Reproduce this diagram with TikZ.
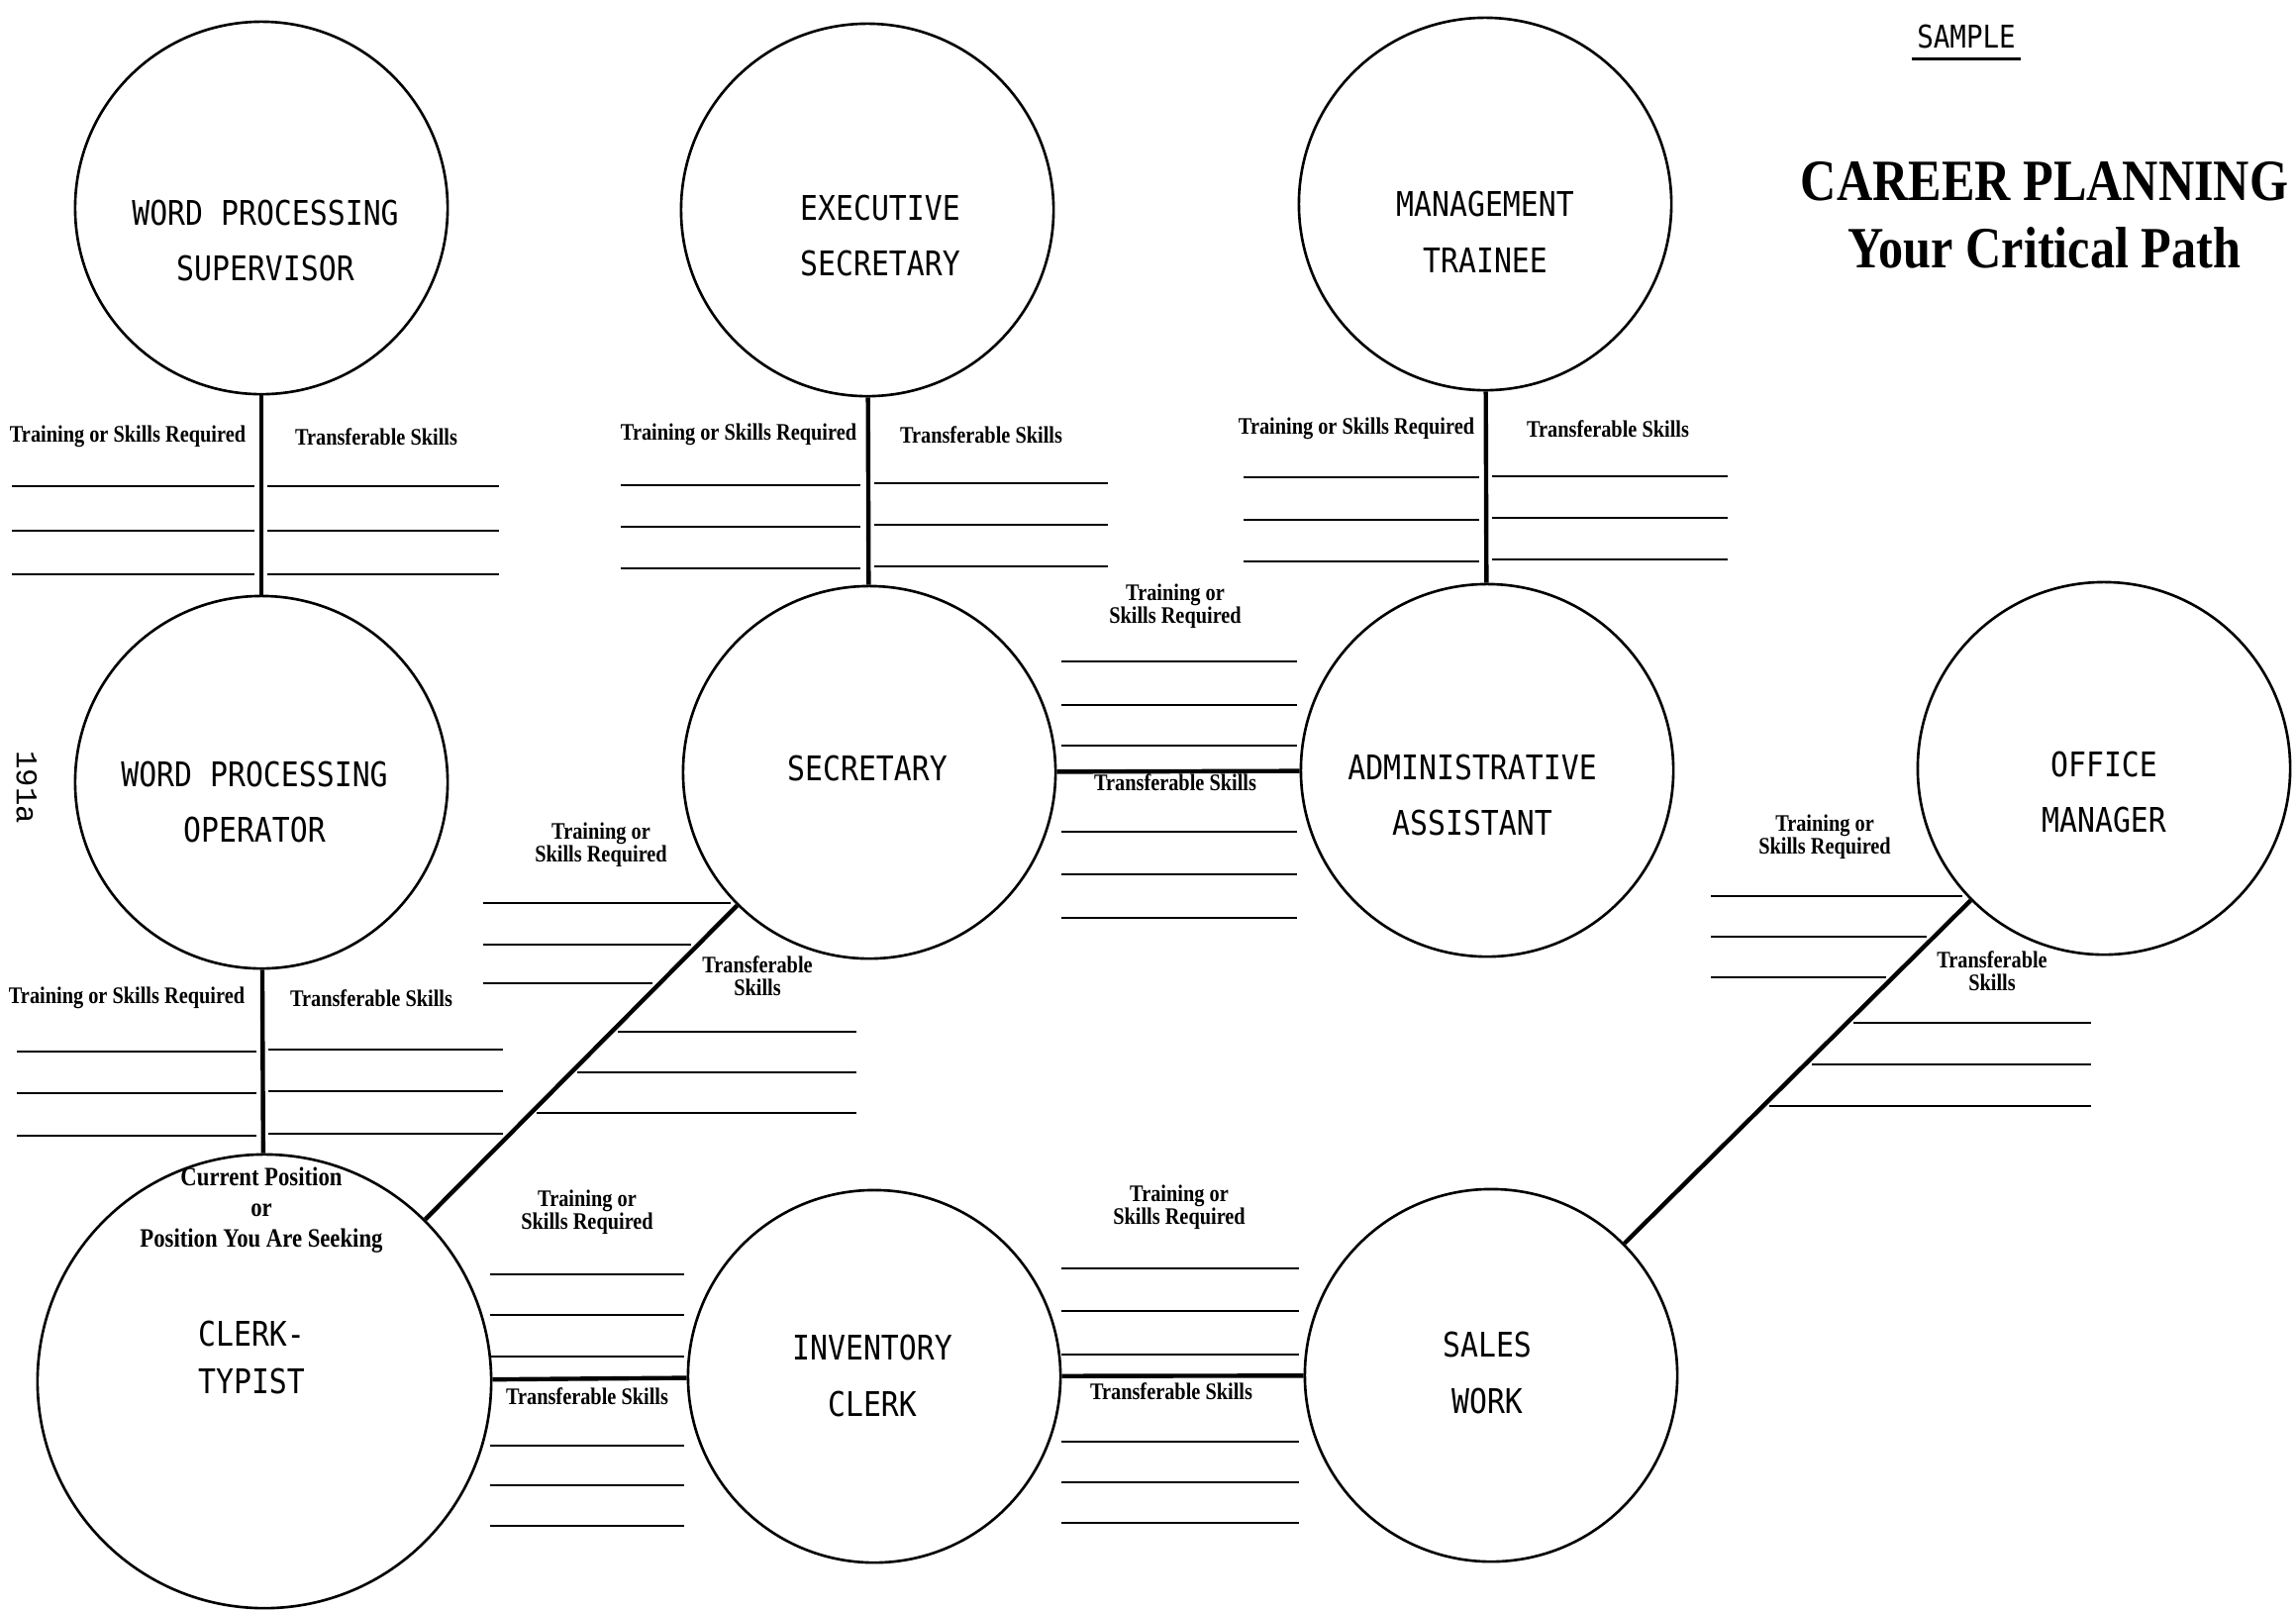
\documentclass[tikz,border=0pt]{standalone}
\usepackage{fontspec}
\setmainfont{Liberation Serif}
\newfontfamily\typefont[FakeStretch=0.87]{DejaVu Sans Mono}
\newfontfamily\printfont[FakeStretch=0.85]{Liberation Serif}
\newfontfamily\pagefont{Liberation Mono}
\usepackage{tikz}

\tikzset{
  job/.style={circle, draw, line width=0.75pt, minimum size=3.76cm, inner sep=0pt},
  job text/.style={font=\typefont\fontsize{9.75}{16.2}\selectfont, align=center, inner sep=0pt},
  hint/.style={font=\printfont\bfseries\fontsize{6.8}{6.6}\selectfont, align=center, inner sep=0pt},
  path line/.style={line width=1.25pt},
  blank/.style={line width=0.7pt}
}

\begin{document}
\begin{tikzpicture}[x=0.01cm, y=-0.01cm]
  \useasboundingbox (0,0) rectangle (2319,1626);
  % the positions
  \node[job] (wp super) at (264,210) {};
  \node[job] (exec sec) at (876,212) {};
  \node[job] (mgmt trainee) at (1500,206) {};
  \node[job] (wp oper) at (264,790) {};
  \node[job] (secretary) at (878,780) {};
  \node[job] (admin asst) at (1502,778) {};
  \node[job] (office mgr) at (2125,776) {};
  \node[job, minimum size=4.58cm] (clerk typist) at (267,1395) {};
  \node[job] (inv clerk) at (883,1390) {};
  \node[job] (sales work) at (1506,1389) {};
  \node[job text] (wp super name) at (268,243) {WORD PROCESSING\\SUPERVISOR};
  \node[job text] (exec sec name) at (889,238) {EXECUTIVE\\SECRETARY};
  \node[job text] (mgmt trainee name) at (1500,234) {MANAGEMENT\\TRAINEE};
  \node[job text] (wp oper name) at (257,810) {WORD PROCESSING\\OPERATOR};
  \node[job text] (secretary name) at (876,776) {SECRETARY};
  \node[job text] (admin asst name) at (1487,803) {ADMINISTRATIVE\\ASSISTANT};
  \node[job text] (office mgr name) at (2125,800) {OFFICE\\MANAGER};
  \node[job text] (clerk typist name) at (254,1371) {CLERK-\\[-2.5pt]TYPIST};
  \node[job text] (inv clerk name) at (881,1389) {INVENTORY\\CLERK};
  \node[job text] (sales work name) at (1502,1386) {SALES\\WORK};
  \node[hint, font=\printfont\bfseries\fontsize{7.6}{8.8}\selectfont] (clerk typist note) at (264,1222)
    {Current Position\\or\\Position You Are Seeking};

  % title
  \node[font=\typefont\fontsize{9}{10}\selectfont, inner sep=0pt] (sample) at (1986,37) {SAMPLE};
  \draw[line width=0.9pt] ([xshift=-0.5mm, yshift=-1mm]sample.south west) -- ([xshift=0.5mm, yshift=-1mm]sample.south east);
  \node[font=\printfont\bfseries\fontsize{16.8}{19.4}\selectfont, align=center, inner sep=0pt] (title) at (2065,217)
    {CAREER PLANNING\\Your Critical Path};
  \node[font=\pagefont\fontsize{8.7}{10}\selectfont, rotate=-90, inner sep=0pt] (page no) at (27,795) {191a};

  % supervisor - operator
  \draw[path line] (wp super) -- (wp oper);
  \node[hint] (wp super req) at (129,441) {Training or Skills Required};
  \node[hint] (wp super trans) at (380,441) {Transferable Skills};
  \draw[blank] (12,491) -- (257,491) (12,536) -- (257,536) (12,580) -- (257,580);
  \draw[blank] (270,491) -- (504,491) (270,536) -- (504,536) (270,580) -- (504,580);

  % executive secretary - secretary
  \draw[path line] (exec sec) -- (secretary);
  \node[hint] (exec sec req) at (746,439) {Training or Skills Required};
  \node[hint] (exec sec trans) at (991,439) {Transferable Skills};
  \draw[blank] (627,490) -- (869,490) (627,532) -- (869,532) (627,574) -- (869,574);
  \draw[blank] (883,488) -- (1119,488) (883,530) -- (1119,530) (883,572) -- (1119,572);

  % trainee - administrative assistant
  \draw[path line] (mgmt trainee) -- (admin asst);
  \node[hint] (mgmt req) at (1370,433) {Training or Skills Required};
  \node[hint] (mgmt trans) at (1624,433) {Transferable Skills};
  \draw[blank] (1256,482) -- (1494,482) (1256,525) -- (1494,525) (1256,567) -- (1494,567);
  \draw[blank] (1507,481) -- (1745,481) (1507,523) -- (1745,523) (1507,565) -- (1745,565);

  % secretary - administrative assistant
  \draw[path line] (secretary) -- (admin asst);
  \node[hint] (admin req) at (1187,612) {Training or\\Skills Required};
  \node[hint] (admin trans) at (1187,790) {Transferable Skills};
  \draw[blank] (1072,668) -- (1310,668) (1072,712) -- (1310,712) (1072,753) -- (1310,753);
  \draw[blank] (1072,840) -- (1310,840) (1072,883) -- (1310,883) (1072,927) -- (1310,927);

  % operator - clerk-typist
  \draw[path line] (wp oper) -- (clerk typist);
  \node[hint] (wp oper req) at (128,1008) {Training or Skills Required};
  \node[hint] (wp oper trans) at (375,1008) {Transferable Skills};
  \draw[blank] (17,1062) -- (259,1062) (17,1104) -- (259,1104) (17,1147) -- (259,1147);
  \draw[blank] (271,1060) -- (508,1060) (271,1102) -- (508,1102) (271,1145) -- (508,1145);

  % clerk-typist - secretary
  \draw[path line] (clerk typist) -- (secretary);
  \node[hint] (secretary req) at (607,853) {Training or\\Skills Required};
  \node[hint] (secretary trans) at (765,986) {Transferable\\Skills};
  \draw[blank] (488,912) -- (738,912) (488,954) -- (698,954) (488,993) -- (659,993);
  \draw[blank] (624,1042) -- (865,1042) (583,1083) -- (865,1083) (542,1124) -- (865,1124);

  % clerk-typist - inventory clerk
  \draw[path line] (clerk typist) -- (inv clerk);
  \node[hint] (inv req) at (593,1224) {Training or\\Skills Required};
  \node[hint] (inv trans) at (593,1410) {Transferable Skills};
  \draw[blank] (495,1287) -- (691,1287) (495,1328) -- (691,1328) (495,1370) -- (691,1370);
  \draw[blank] (495,1460) -- (691,1460) (495,1500) -- (691,1500) (495,1541) -- (691,1541);

  % inventory clerk - sales work
  \draw[path line] (inv clerk) -- (sales work);
  \node[hint] (sales req) at (1191,1219) {Training or\\Skills Required};
  \node[hint] (sales trans) at (1183,1405) {Transferable Skills};
  \draw[blank] (1072,1281) -- (1312,1281) (1072,1324) -- (1312,1324) (1072,1368) -- (1312,1368);
  \draw[blank] (1072,1456) -- (1312,1456) (1072,1497) -- (1312,1497) (1072,1538) -- (1312,1538);

  % sales work - office manager
  \draw[path line] (sales work) -- (office mgr);
  \node[hint] (office req) at (1843,845) {Training or\\Skills Required};
  \node[hint] (office trans) at (2012,981) {Transferable\\Skills};
  \draw[blank] (1728,905) -- (1982,905) (1728,946) -- (1946,946) (1728,987) -- (1905,987);
  \draw[blank] (1872,1033) -- (2112,1033) (1830,1075) -- (2112,1075) (1787,1117) -- (2112,1117);
\end{tikzpicture}
\end{document}
